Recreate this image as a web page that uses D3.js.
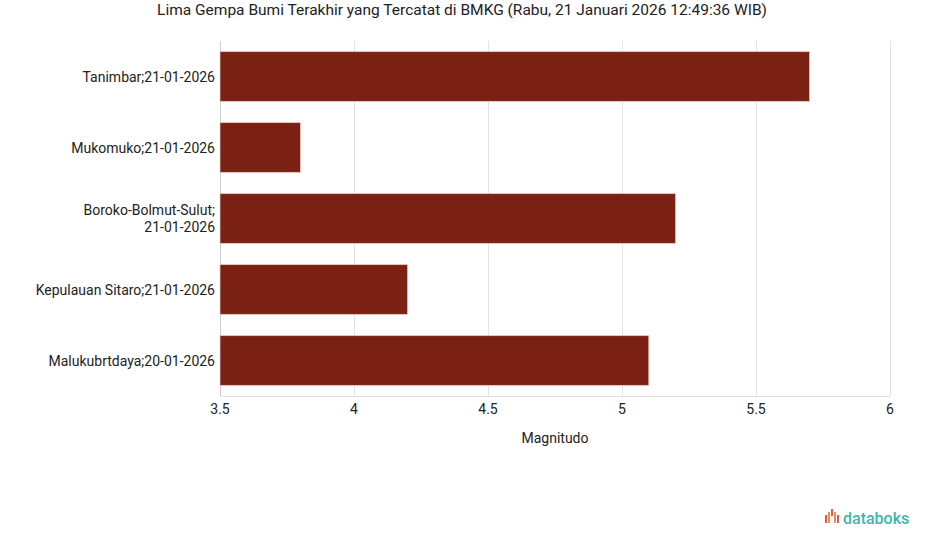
<!DOCTYPE html>
<html>
<head>
<meta charset="utf-8">
<script src="https://d3js.org/d3.v7.min.js"></script>
<style>
  body { margin: 0; background: #fff; }
  text { font-family: Roboto, "Liberation Sans", sans-serif; fill: #222; }
</style>
</head>
<body>
<svg id="chart" width="925" height="547"></svg>
<script>
// data
var lokasi = ["Tanimbar;21-01-2026", "Mukomuko;21-01-2026", "Boroko-Bolmut-Sulut;\n21-01-2026",
              "Kepulauan Sitaro;21-01-2026", "Malukubrtdaya;20-01-2026"];
var magnitudo = [5.7, 3.8, 5.2, 4.2, 5.1];
var xTicks = [3.5, 4, 4.5, 5, 5.5, 6];

var svg = d3.select("#chart");
var mLeft = 220, mRight = 890, mTop = 41, mBottom = 396;

var x = d3.scaleLinear().domain([3.5, 6]).range([mLeft, mRight]);
var y = d3.scaleBand().domain(lokasi).range([mTop, mBottom]).paddingInner(0.3).paddingOuter(0.15);

// title
svg.append("text")
    .attr("x", 462).attr("y", 15)
    .attr("text-anchor", "middle")
    .style("font-size", "15.5px")
    .text("Lima Gempa Bumi Terakhir yang Tercatat di BMKG (Rabu, 21 Januari 2026 12:49:36 WIB)");

// grid
svg.append("g").selectAll("line.grid").data(xTicks).enter().append("line")
    .attr("x1", d => x(d) + 0.5).attr("x2", d => x(d) + 0.5)
    .attr("y1", mTop).attr("y2", mBottom)
    .attr("stroke", d => d == 3.5 ? "#ccc" : "#e3e3e3");

svg.append("line")
    .attr("x1", mLeft).attr("x2", mRight)
    .attr("y1", mBottom + 0.5).attr("y2", mBottom + 0.5)
    .attr("stroke", "#e0e0e0");

// bars
svg.append("g").selectAll("rect.bar").data(lokasi).enter().append("rect")
    .attr("x", x(3.5))
    .attr("y", d => y(d))
    .attr("width", (d, i) => x(magnitudo[i]) - x(3.5))
    .attr("height", y.bandwidth())
    .attr("fill", "#7a2114")
    .attr("stroke", "#e8c4bd")
    .attr("stroke-width", 0.8);

// x axis labels
svg.append("g").selectAll("text.tick").data(xTicks).enter().append("text")
    .attr("x", d => x(d)).attr("y", 414)
    .attr("text-anchor", "middle")
    .style("font-size", "14px")
    .text(d => d);

svg.append("text")
    .attr("x", x(4.75)).attr("y", 443)
    .attr("text-anchor", "middle")
    .style("font-size", "14px")
    .text("Magnitudo");

// y labels
var yl = svg.append("g").selectAll("text.cat").data(lokasi).enter().append("text")
    .attr("text-anchor", "end")
    .style("font-size", "14px");
yl.each(function(d) {
    var lines = d.split("\n");
    var cy = y(d) + y.bandwidth() / 2;
    var t = d3.select(this);
    lines.forEach(function(l, k) {
        t.append("tspan")
            .attr("x", 215)
            .attr("y", cy + 5 + (k - (lines.length - 1) / 2) * 17)
            .text(l);
    });
});

// logo
var logo = svg.append("g").attr("transform", "translate(825,509)");
var logoBars = [[0, 6, 8], [3, 3, 11], [6, 0, 7], [9, 3, 11], [12, 6, 8]];
logo.selectAll("rect").data(logoBars).enter().append("rect")
    .attr("x", d => d[0]).attr("y", d => d[1])
    .attr("width", 2).attr("height", d => d[2])
    .attr("fill", (d, i) => i % 2 ? "#f08a5d" : "#e9584f");
logo.append("text")
    .attr("x", 18).attr("y", 15)
    .style("font-size", "16px")
    .style("font-weight", "500")
    .style("fill", "#3bb6b0")
    .text("databoks");
</script>
</body>
</html>
